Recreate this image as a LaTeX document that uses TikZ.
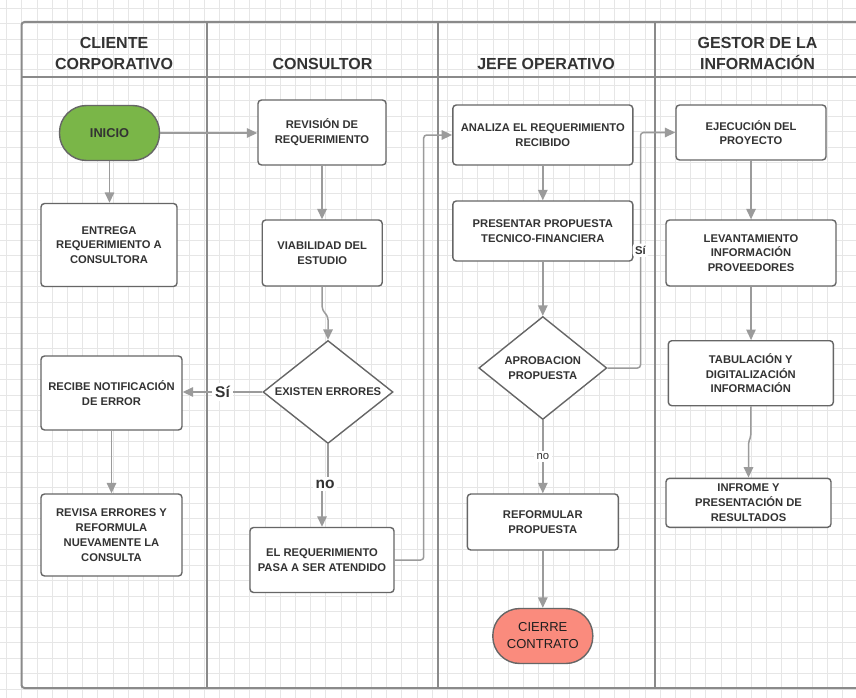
\documentclass[tikz,border=0pt]{standalone}
\usepackage{fontspec}
\setmainfont{Liberation Sans}
\usetikzlibrary{arrows.meta,shapes.geometric}
\definecolor{gridc}{HTML}{E6E6E6}
\definecolor{framec}{HTML}{8A8A8A}
\definecolor{boxc}{HTML}{666666}
\definecolor{connc}{HTML}{9B9B9B}
\definecolor{txtc}{HTML}{333333}
\definecolor{greenc}{HTML}{7AB648}
\definecolor{redc}{HTML}{FA8B7D}
\begin{document}
\begin{tikzpicture}[x=1pt,y=-1pt,
  gridline/.style={draw=gridc,line width=0.9pt},
  frame/.style={draw=framec,line width=2pt},
  hdr/.style={align=center,text=txtc,font=\fontsize{16}{21}\selectfont\bfseries,inner sep=0pt},
  box/.style={draw=boxc,line width=1.4pt,rounded corners=3.5pt,fill=white,align=center,text=txtc,
    font=\fontsize{11.2}{14.8}\selectfont\bfseries,inner sep=0pt},
  term/.style={box,rounded corners=27pt,minimum width=100pt,minimum height=55pt},
  dia/.style={draw=boxc,line width=1.4pt,diamond,fill=white,inner sep=0pt},
  dtxt/.style={align=center,text=txtc,font=\fontsize{11.2}{14.8}\selectfont\bfseries,inner sep=0pt},
  conn/.style={draw=connc,line width=1.5pt,-{Triangle[length=10.5pt,width=9.5pt]}},
  lblbig/.style={fill=white,text=txtc,font=\fontsize{15.5}{18}\selectfont\bfseries,inner sep=3pt},
  lblsmall/.style={fill=white,text=txtc,font=\fontsize{11.3}{13}\selectfont,inner sep=2.5pt},
]
\useasboundingbox (0,0) rectangle (856,698);
\fill[white] (0,0) rectangle (856,698);
% grid
\foreach \i in {0,...,56} \draw[gridline] ({6.7+15.2*\i},0) -- ({6.7+15.2*\i},698);
\foreach \j in {0,...,44} \draw[gridline] (0,{8+15.48*\j}) -- (856,{8+15.48*\j});
% swimlane frame
\draw[frame,rounded corners=3pt] (862,22) -- (21.5,22) -- (21.5,688) -- (862,688);
\draw[frame] (21.5,77) -- (862,77);
\draw[frame] (207,22) -- (207,688);
\draw[frame] (438,22) -- (438,688);
\draw[frame] (655,22) -- (655,688);
% headers
\node[hdr] (h1) at (114,53.5) {CLIENTE\\CORPORATIVO};
\node[hdr] (h2) at (322.5,64) {CONSULTOR};
\node[hdr] (h3) at (546,64) {JEFE OPERATIVO};
\node[hdr] (h4) at (757.5,53.5) {GESTOR DE LA\\INFORMACIÓN};
% lane 1
\node[term,fill=greenc,font=\fontsize{12.8}{15}\selectfont\bfseries] (inicio) at (109.5,133) {INICIO};
\node[box,minimum width=136pt,minimum height=83pt] (entrega) at (109,245) {ENTREGA\\REQUERIMIENTO A\\CONSULTORA};
\node[box,minimum width=141pt,minimum height=74pt] (recibe) at (111.5,393) {RECIBE NOTIFICACIÓN\\DE ERROR};
\node[box,minimum width=141pt,minimum height=82pt] (revisa) at (111.5,535) {REVISA ERRORES Y\\REFORMULA\\NUEVAMENTE LA\\CONSULTA};
% lane 2
\node[box,minimum width=128pt,minimum height=65pt] (revision) at (322,132.5) {REVISIÓN DE\\REQUERIMIENTO};
\node[box,minimum width=120pt,minimum height=66pt] (viab) at (322.2,253) {VIABILIDAD DEL\\ESTUDIO};
\node[dia,minimum width=130pt,minimum height=103pt,label={[dtxt]center:EXISTEN ERRORES}] (d1) at (328,392) {};
\node[box,minimum width=144pt,minimum height=65pt] (ereq) at (322,560) {EL REQUERIMIENTO\\PASA A SER ATENDIDO};
% lane 3
\node[box,minimum width=180pt,minimum height=60pt] (analiza) at (542.8,135) {ANALIZA EL REQUERIMIENTO\\RECIBIDO};
\node[box,minimum width=180pt,minimum height=60pt] (presentar) at (542.8,231) {PRESENTAR PROPUESTA\\TECNICO-FINANCIERA};
\node[dia,minimum width=128pt,minimum height=103pt,label={[dtxt]center:APROBACION\\PROPUESTA}] (d2) at (542.8,368) {};
\node[box,minimum width=151pt,minimum height=56pt] (refor) at (542.8,522) {REFORMULAR\\PROPUESTA};
\node[term,fill=redc,text=black!88,font=\fontsize{13}{17}\selectfont] (cierre) at (542.8,636) {CIERRE\\CONTRATO};
% lane 4
\node[box,minimum width=150pt,minimum height=55pt] (ejec) at (751,132.5) {EJECUCIÓN DEL\\PROYECTO};
\node[box,minimum width=170pt,minimum height=66pt] (lev) at (751,253) {LEVANTAMIENTO\\INFORMACIÓN\\PROVEEDORES};
\node[box,minimum width=165pt,minimum height=65pt] (tab) at (750.8,373.2) {TABULACIÓN Y\\DIGITALIZACIÓN\\INFORMACIÓN};
\node[box,minimum width=165pt,minimum height=49pt] (inf) at (748.5,502.8) {INFROME Y\\PRESENTACIÓN DE\\RESULTADOS};
% connectors
\draw[conn] (inicio.south) -- (inicio.south |- entrega.north);
\draw[conn] (inicio.east) -- (inicio.east -| revision.west);
\draw[conn] (revision.south) -- (revision.south |- viab.north);
\draw[conn,rounded corners=3pt] (viab.south) -- ++(0,23) -- ++(5.8,7) -- (d1.north);
\draw[conn] (d1.west) -- node[lblbig] (lsi1) {Sí} (d1.west -| recibe.east);
\draw[conn] (recibe.south) -- (recibe.south |- revisa.north);
\draw[conn] (d1.south) -- ++(0,40) -- ++(-6,0) node[midway,lblbig] (lno1) {no} -- (ereq.north);
\draw[conn,rounded corners=3pt] (ereq.east) -- ++(29,0) |- (analiza.west);
\draw[conn] (analiza.south) -- (presentar.north);
\draw[conn] (presentar.south) -- (d2.north);
\draw[conn,rounded corners=3pt] (d2.east) -- ++(33,0) |- node[pos=0.25,lblsmall,font=\fontsize{11.3}{13}\selectfont\bfseries] (lsi2) {Sí} (ejec.west);
\draw[conn] (d2.south) -- node[lblsmall] (lno2) {no} (refor.north);
\draw[conn] (refor.south) -- (cierre.north);
\draw[conn] (ejec.south) -- (ejec.south |- lev.north);
\draw[conn] (lev.south) -- (lev.south |- tab.north);
\draw[conn,rounded corners=2pt] (tab.south) -- ++(0,30) -- ++(-2.3,6) -- (inf.north);
\end{tikzpicture}
\end{document}
